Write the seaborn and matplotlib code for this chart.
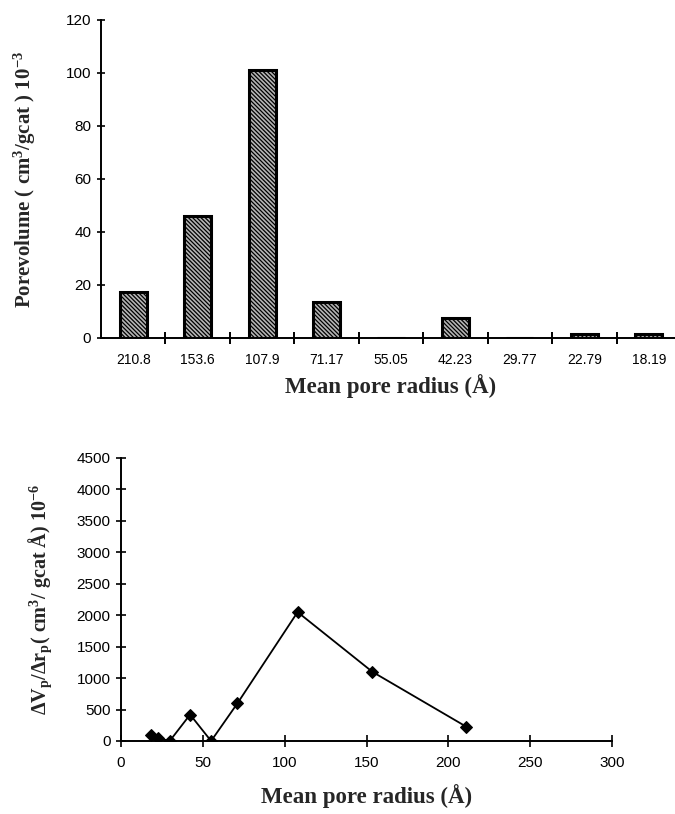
import matplotlib
matplotlib.use("Agg")
import matplotlib.pyplot as plt
import seaborn as sns
import pandas as pd
import numpy as np

# ---- data ----
radius_labels = ["210.8", "153.6", "107.9", "71.17", "55.05", "42.23", "29.77", "22.79", "18.19"]
pore_volume = [17.5, 46, 101, 13.5, 0, 7.5, 0, 1.5, 1.5]

mean_radius = [18.19, 22.79, 29.77, 42.23, 55.05, 71.17, 107.9, 153.6, 210.8]
dv_dr = [100, 50, 0, 420, 0, 600, 2050, 1100, 230]

sns.set_theme(style="white")
plt.rcParams['font.family'] = ['Liberation Sans', 'DejaVu Sans']
plt.rcParams['mathtext.fontset'] = 'custom'
plt.rcParams['mathtext.rm'] = 'Liberation Serif:bold'
plt.rcParams['mathtext.it'] = 'Liberation Serif:bold'
plt.rcParams['mathtext.bf'] = 'Liberation Serif:bold'
plt.rcParams['hatch.linewidth'] = 0.9

fig = plt.figure(figsize=(6.75, 8.14), dpi=100)
W, H = 675, 814

def ax_rect(l, r, t, b):
    return [l / W, 1 - b / H, (r - l) / W, (b - t) / H]

# ---- top bar chart ----
ax1 = fig.add_axes(ax_rect(101, 681, 20, 338))
df1 = pd.DataFrame({"r": radius_labels, "v": pore_volume})
sns.barplot(data=df1, x="r", y="v", order=radius_labels, ax=ax1,
            color="#b4b4b4", width=0.42, edgecolor="black", linewidth=2.2)
for p in ax1.patches:
    p.set_hatch("\\\\\\\\\\\\\\\\")
ax1.set_xlim(-0.5, 8.5)
ax1.set_ylim(0, 120)
ax1.set_yticks(np.arange(0, 121, 20))
ax1.tick_params(axis='y', direction='inout', length=6, width=1.2, labelsize=11, pad=4, left=True, colors='black')
ax1.set_xticks(np.arange(len(radius_labels)))
ax1.set_xticklabels(radius_labels, fontsize=10)
ax1.tick_params(axis='x', which='major', length=0, pad=11, labelcolor='black')
ax1.set_xticks(np.arange(0.5, 8.0, 1.0), minor=True)
ax1.tick_params(axis='x', which='minor', direction='inout', length=9, width=1.4, bottom=True, color='black')
for s in ["top", "right"]:
    ax1.spines[s].set_visible(False)
for s in ["left", "bottom"]:
    ax1.spines[s].set_color("black")
    ax1.spines[s].set_linewidth(1.4)
ax1.set_xlabel("Mean pore radius (Å)", fontsize=16.5, fontweight='bold',
               family='Liberation Serif', labelpad=5)
ax1.set_ylabel("Porevolume ( cm$^{3}$/gcat ) 10$^{-3}$", fontsize=15, fontweight='bold',
               family='Liberation Serif', labelpad=20)

# ---- bottom line chart ----
ax2 = fig.add_axes(ax_rect(121, 612, 458, 741))
df2 = pd.DataFrame({"r": mean_radius, "d": dv_dr})
sns.lineplot(data=df2, x="r", y="d", ax=ax2, color="black", linewidth=1.3,
             marker="D", markersize=6, markeredgecolor="black", sort=True)
ax2.set_xlim(0, 300)
ax2.set_ylim(0, 4500)
ax2.set_xticks(np.arange(0, 301, 50))
ax2.set_yticks(np.arange(0, 4501, 500))
ax2.tick_params(axis='x', direction='inout', length=8, width=1.2, labelsize=11, pad=7, bottom=True, colors='black')
ax2.tick_params(axis='y', direction='inout', length=7, width=1.2, labelsize=11, pad=4, left=True, colors='black')
for s in ["top", "right"]:
    ax2.spines[s].set_visible(False)
for s in ["left", "bottom"]:
    ax2.spines[s].set_color("black")
    ax2.spines[s].set_linewidth(1.4)
ax2.set_xlabel("Mean pore radius (Å)", fontsize=16.5, fontweight='bold',
               family='Liberation Serif', labelpad=10)
ax2.set_ylabel("ΔV$_{p}$/Δr$_{p}$( cm$^{3}$/ gcat Å) 10$^{-6}$", fontsize=14.5, fontweight='bold',
               family='Liberation Serif', labelpad=16)

fig.savefig("out.png", dpi=100)
